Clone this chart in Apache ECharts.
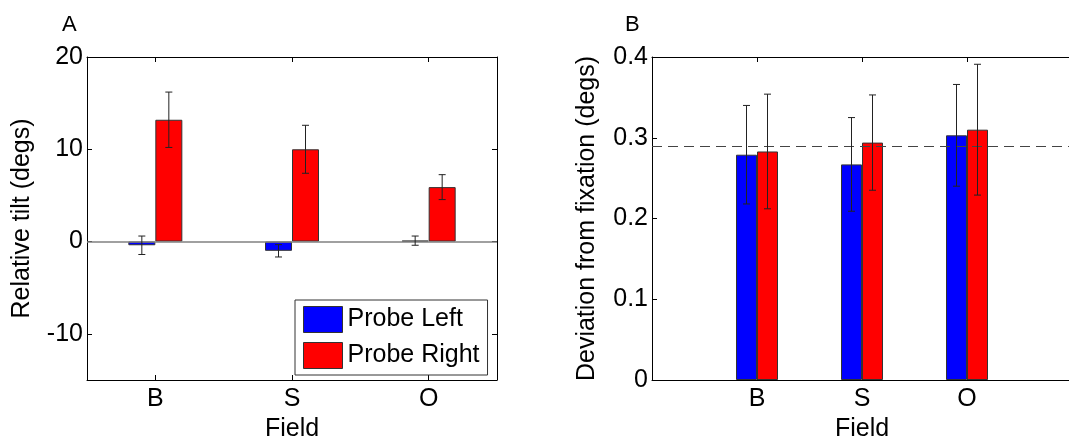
<!DOCTYPE html>
<html>
<head>
<meta charset="utf-8">
<script src="https://cdn.jsdelivr.net/npm/echarts@6/dist/echarts.min.js"></script>
<style>
  html, body { margin: 0; padding: 0; background: #fff; }
  #chart { width: 1069px; height: 440px; }
</style>
</head>
<body>
<div id="chart"></div>
<script>
// ---- data ----
const categories = ['B', 'S', 'O'];
const seriesNames = ['Probe Left', 'Probe Right'];
const panelLabels = ['A', 'B'];

// Panel A: relative tilt (degs)
const tiltProbeLeft = [-0.4, -1.0, 0.1];
const tiltProbeLeftErr = [1.0, 0.67, 0.5];
const tiltProbeRight = [13.2, 10.0, 5.9];
const tiltProbeRightErr = [3.0, 2.6, 1.35];
const tiltTicks = [-10, 0, 10, 20];

// Panel B: deviation from fixation (degs)
const devProbeLeft = [0.279, 0.267, 0.303];
const devProbeLeftErr = [0.061, 0.058, 0.063];
const devProbeRight = [0.283, 0.294, 0.310];
const devProbeRightErr = [0.071, 0.059, 0.081];
const devReference = 0.289;

// ---- helpers ----
const catPos = categories.map((c, i) => i + 1);
const FONT = "'Liberation Sans', Arial, sans-serif";
const BLUE = '#0000ff', RED = '#ff0000';

function barData(vals) { return vals.map((v, i) => [catPos[i], v]); }
function errData(vals, errs) { return vals.map((v, i) => [catPos[i], v - errs[i], v + errs[i]]); }

function errSeries(name, xi, yi, data, offsetPx, extra) {
  return Object.assign({
    type: 'custom',
    name: name + ' err',
    xAxisIndex: xi, yAxisIndex: yi,
    z: 5,
    silent: true,
    data: data,
    encode: { x: 0, y: [1, 2] },
    renderItem: function (params, api) {
      const x = api.value(0);
      const lo = api.coord([x, api.value(1)]);
      const hi = api.coord([x, api.value(2)]);
      const px = lo[0] + offsetPx;
      const cap = 3.5;
      const st = { stroke: '#222', lineWidth: 1 };
      return {
        type: 'group',
        children: [
          { type: 'line', shape: { x1: px, y1: lo[1], x2: px, y2: hi[1] }, style: st },
          { type: 'line', shape: { x1: px - cap, y1: lo[1], x2: px + cap, y2: lo[1] }, style: st },
          { type: 'line', shape: { x1: px - cap, y1: hi[1], x2: px + cap, y2: hi[1] }, style: st }
        ]
      };
    }
  }, extra || {});
}

const labelStyle = { fontFamily: FONT, fontSize: 25, color: '#000' };
const nameStyle = { fontFamily: FONT, fontSize: 25, color: '#000' };
const lineBlack = { show: true, onZero: false, lineStyle: { color: '#000', width: 1 } };

function xAxisMain(gi, min, max) {
  return {
    type: 'value', gridIndex: gi, min: min, max: max, position: 'bottom',
    axisLine: lineBlack,
    axisTick: { show: true, inside: true, length: 5, customValues: catPos, lineStyle: { color: '#000' } },
    axisLabel: Object.assign({ customValues: catPos, margin: 7,
      formatter: v => categories[Math.round(v) - 1] || '' }, labelStyle),
    splitLine: { show: false },
    name: 'Field', nameLocation: 'middle', nameGap: 35, nameTextStyle: nameStyle
  };
}
function xAxisTop(gi, min, max) {
  return {
    type: 'value', gridIndex: gi, min: min, max: max, position: 'top',
    axisLine: lineBlack,
    axisTick: { show: true, inside: true, length: 5, customValues: catPos, lineStyle: { color: '#000' } },
    axisLabel: { show: false }, splitLine: { show: false }
  };
}

const option = {
  animation: false,
  backgroundColor: '#fff',
  textStyle: { fontFamily: FONT },
  graphic: [
    { type: 'text', left: 62, top: 14, style: { text: panelLabels[0], fontSize: 22, fontFamily: FONT, fill: '#000' } },
    { type: 'text', left: 625, top: 14, style: { text: panelLabels[1], fontSize: 22, fontFamily: FONT, fill: '#000' } }
  ],
  grid: [
    { left: 87, top: 57, width: 410, height: 323, outerBoundsMode: 'none', containLabel: false },
    { left: 652, top: 57, width: 420, height: 323, outerBoundsMode: 'none', containLabel: false }
  ],
  legend: {
    data: seriesNames,
    orient: 'vertical',
    left: 295, top: 300,
    itemWidth: 39, itemHeight: 26, itemGap: 9,
    padding: [6, 8, 6, 8],
    icon: 'rect',
    backgroundColor: '#fff',
    borderColor: '#333', borderWidth: 1, borderRadius: 0,
    itemStyle: { borderColor: '#333', borderWidth: 1 },
    textStyle: { fontFamily: FONT, fontSize: 25, color: '#000' }
  },
  xAxis: [
    xAxisMain(0, 0.5, 3.5),
    xAxisTop(0, 0.5, 3.5),
    xAxisMain(1, 0, 4),
    xAxisTop(1, 0, 4)
  ],
  yAxis: [
    {
      type: 'value', gridIndex: 0, min: -15, max: 20, position: 'left',
      axisLine: lineBlack,
      axisTick: { show: true, inside: true, length: 5, customValues: tiltTicks, lineStyle: { color: '#000' } },
      axisLabel: Object.assign({ customValues: tiltTicks, margin: 4 }, labelStyle),
      splitLine: { show: false },
      name: 'Relative tilt (degs)', nameLocation: 'middle', nameGap: 52, nameTextStyle: nameStyle
    },
    {
      type: 'value', gridIndex: 0, min: -15, max: 20, position: 'right',
      axisLine: lineBlack,
      axisTick: { show: true, inside: true, length: 5, customValues: tiltTicks, lineStyle: { color: '#000' } },
      axisLabel: { show: false }, splitLine: { show: false }
    },
    {
      type: 'value', gridIndex: 1, min: 0, max: 0.4, interval: 0.1, position: 'left',
      axisLine: lineBlack,
      axisTick: { show: true, inside: true, length: 5, lineStyle: { color: '#000' } },
      axisLabel: Object.assign({ margin: 4 }, labelStyle),
      splitLine: { show: false },
      name: 'Deviation from fixation (degs)', nameLocation: 'middle', nameGap: 52, nameTextStyle: nameStyle
    }
  ],
  series: [
    {
      type: 'bar', name: seriesNames[0], xAxisIndex: 0, yAxisIndex: 0,
      data: barData(tiltProbeLeft), barWidth: 27, barGap: '0%',
      itemStyle: { color: BLUE, borderColor: '#333', borderWidth: 1 },
      z: 2
    },
    {
      type: 'bar', name: seriesNames[1], xAxisIndex: 0, yAxisIndex: 0,
      data: barData(tiltProbeRight), barWidth: 27, barGap: '0%',
      itemStyle: { color: RED, borderColor: '#333', borderWidth: 1 },
      z: 2,
      markLine: {
        silent: true, symbol: 'none', label: { show: false },
        lineStyle: { color: '#808080', type: 'solid', width: 1.5 },
        data: [{ yAxis: 0 }]
      }
    },
    errSeries(seriesNames[0], 0, 0, errData(tiltProbeLeft, tiltProbeLeftErr), -13.5),
    errSeries(seriesNames[1], 0, 0, errData(tiltProbeRight, tiltProbeRightErr), 13.5),
    {
      type: 'bar', name: seriesNames[0], xAxisIndex: 2, yAxisIndex: 2,
      data: barData(devProbeLeft), barWidth: 21, barGap: '0%',
      itemStyle: { color: BLUE, borderColor: '#333', borderWidth: 1 },
      z: 2
    },
    {
      type: 'bar', name: seriesNames[1], xAxisIndex: 2, yAxisIndex: 2,
      data: barData(devProbeRight), barWidth: 21, barGap: '0%',
      itemStyle: { color: RED, borderColor: '#333', borderWidth: 1 },
      z: 2
    },
    errSeries(seriesNames[0], 2, 2, errData(devProbeLeft, devProbeLeftErr), -10.5),
    errSeries(seriesNames[1], 2, 2, errData(devProbeRight, devProbeRightErr), 10.5, {
      markLine: {
        silent: true, symbol: 'none', label: { show: false },
        lineStyle: { color: '#444', type: [10, 6], width: 1 },
        data: [{ yAxis: devReference }]
      }
    })
  ]
};

const chart = echarts.init(document.getElementById('chart'), null, { renderer: 'canvas' });
chart.setOption(option);
</script>
</body>
</html>
